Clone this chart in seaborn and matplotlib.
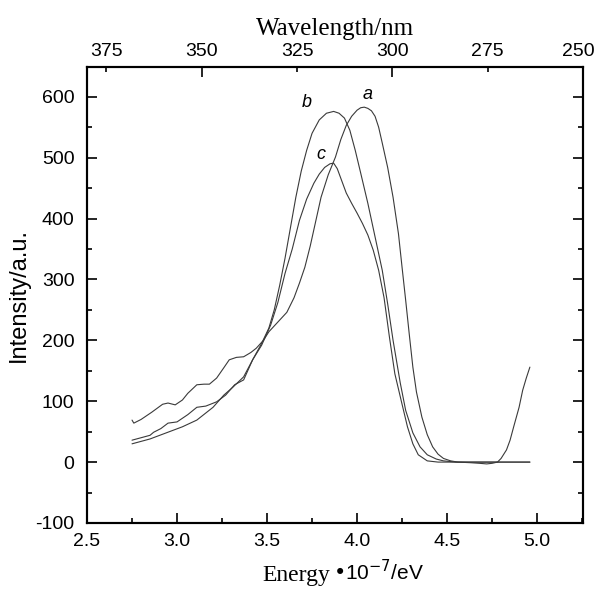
import matplotlib
matplotlib.use("Agg")
import matplotlib.pyplot as plt
import matplotlib.transforms as mtransforms
import numpy as np
import pandas as pd
import seaborn as sns
from matplotlib.ticker import MultipleLocator, FormatStrFormatter

# curve a (wavy at low energy, peak ~4.05 eV, rising tail above 4.8 eV)
energy_a = [2.75, 2.76, 2.80, 2.86, 2.92, 2.95, 2.99, 3.03, 3.06, 3.11, 3.15, 3.18,
            3.22, 3.26, 3.29, 3.33, 3.37, 3.41, 3.44, 3.48, 3.51, 3.56, 3.61, 3.65,
            3.68, 3.71, 3.74, 3.77, 3.80, 3.84, 3.88, 3.91, 3.94, 3.97, 4.00, 4.02,
            4.04, 4.06, 4.08, 4.10, 4.12, 4.14, 4.17, 4.20, 4.23, 4.25, 4.27, 4.29,
            4.31, 4.33, 4.36, 4.39, 4.42, 4.45, 4.48, 4.52, 4.56, 4.63, 4.68, 4.72,
            4.75, 4.78, 4.80, 4.83, 4.85, 4.87, 4.90, 4.92, 4.94, 4.96]
intensity_a = [69, 64, 70, 82, 95, 97, 94, 102, 113, 127, 128, 128,
               138, 155, 168, 172, 173, 180, 187, 200, 214, 230, 246, 270,
               294, 320, 355, 395, 435, 472, 501, 530, 553, 568, 578, 582,
               583, 581, 577, 568, 550, 524, 484, 435, 375, 320, 266, 210,
               156, 115, 74, 45, 25, 13, 6, 2, 0, -1, -2, -3,
               -2, 0, 6, 20, 36, 58, 90, 118, 138, 156]

# curve b (smooth, peak ~3.87 eV)
energy_b = [2.75, 2.85, 2.94, 3.03, 3.11, 3.20, 3.26, 3.31, 3.37, 3.42, 3.47, 3.51,
            3.54, 3.57, 3.60, 3.63, 3.66, 3.69, 3.72, 3.75, 3.79, 3.83, 3.87, 3.90,
            3.93, 3.96, 3.99, 4.02, 4.06, 4.10, 4.14, 4.17, 4.20, 4.24, 4.27, 4.31,
            4.35, 4.39, 4.44, 4.48, 4.55, 4.96]
intensity_b = [30, 38, 48, 58, 69, 90, 110, 123, 140, 168, 195, 220,
               250, 290, 335, 385, 435, 478, 512, 540, 562, 573, 576, 573,
               565, 545, 512, 475, 425, 370, 315, 260, 200, 130, 85, 48,
               25, 12, 5, 2, 0, 0]

# curve c (lower peak ~3.87 eV with shoulder)
energy_c = [2.75, 2.80, 2.85, 2.87, 2.91, 2.95, 3.00, 3.06, 3.11, 3.16, 3.22, 3.27,
            3.32, 3.37, 3.42, 3.47, 3.52, 3.56, 3.60, 3.64, 3.68, 3.72, 3.76, 3.79,
            3.82, 3.85, 3.87, 3.89, 3.91, 3.94, 3.97, 4.00, 4.03, 4.06, 4.09, 4.12,
            4.15, 4.18, 4.21, 4.25, 4.28, 4.31, 4.34, 4.39, 4.45, 4.96]
intensity_c = [36, 40, 44, 49, 55, 64, 66, 78, 90, 92, 99, 110,
               127, 135, 168, 192, 225, 262, 310, 350, 397, 432, 458, 473,
               484, 490, 491, 482, 466, 442, 425, 409, 392, 373, 348, 315,
               270, 205, 145, 95, 58, 30, 12, 2, 0, 0]

curve_labels = ["a", "b", "c"]
label_pos = [(4.06, 603), (3.72, 591), (3.80, 506)]

wavelength_major = [350, 300, 250]
wavelength_minor = [375, 325, 275]

sns.set_theme(style="ticks")
plt.rcParams["font.family"] = ["Liberation Sans", "DejaVu Sans"]
plt.rcParams["axes.unicode_minus"] = False
plt.rcParams["text.color"] = "black"
plt.rcParams["axes.labelcolor"] = "black"

fig = plt.figure(figsize=(5.98, 5.90), dpi=100)
ax = fig.add_axes([0.1455, 0.1136, 0.8294, 0.7729])

line_color = "#3a3a3a"
for e, i in [(energy_a, intensity_a), (energy_b, intensity_b), (energy_c, intensity_c)]:
    df = pd.DataFrame({"energy": e, "intensity": i})
    sns.lineplot(data=df, x="energy", y="intensity", ax=ax, color=line_color,
                 linewidth=0.8, sort=False, estimator=None)

for name, (x, y) in zip(curve_labels, label_pos):
    ax.text(x, y, name, fontsize=13, style="italic", ha="center", va="center")

ax.set_xlim(2.5, 5.255)
ax.set_ylim(-100, 649)
ax.xaxis.set_major_locator(MultipleLocator(0.5))
ax.xaxis.set_minor_locator(MultipleLocator(0.25))
ax.yaxis.set_major_locator(MultipleLocator(100))
ax.yaxis.set_minor_locator(MultipleLocator(50))
ax.xaxis.set_major_formatter(FormatStrFormatter("%.1f"))
ax.tick_params(which="both", direction="in", top=False, right=True,
               labelright=False, width=1.2, labelsize=14, colors="black")
ax.tick_params(which="major", length=7)
ax.tick_params(which="minor", length=3.5)
ax.tick_params(axis="x", pad=7)
ax.tick_params(axis="y", pad=9)
ax.set_xlabel("")
ax.set_ylabel("Intensity/a.u.", fontsize=17, labelpad=4)
for sp in ax.spines.values():
    sp.set_visible(True)
    sp.set_linewidth(1.5)
    sp.set_color("black")

ax2 = ax.twiny()
ax2.set_xlim(380.1, 250)
ax2.set_xticks(wavelength_major, labels=[str(w) for w in wavelength_major])
ax2.set_xticks(wavelength_minor, labels=[str(w) for w in wavelength_minor], minor=True)
ax2.tick_params(which="both", direction="in", width=1.2, labelsize=14, pad=5,
                colors="black")
ax2.tick_params(which="major", length=7)
ax2.tick_params(which="minor", length=3.5)
ax2.set_xlabel("Wavelength/nm", fontsize=18, family="Liberation Serif", labelpad=6)
for sp in ax2.spines.values():
    sp.set_linewidth(1.5)
    sp.set_color("black")

# nudge the last top label left so it stays inside the canvas
shift = mtransforms.ScaledTranslation(-5 / 100, 0, fig.dpi_scale_trans)
last_label = ax2.get_xticklabels()[-1]
last_label.set_transform(last_label.get_transform() + shift)

fig.text(330 / 598, 0.016, "Energy", family="Liberation Serif", fontsize=17,
         ha="right", va="baseline")
fig.text(333 / 598, 0.016, "\u2022" + "10$^{-7}$/eV", fontsize=15,
         ha="left", va="baseline")

fig.savefig("out.png", dpi=100)
